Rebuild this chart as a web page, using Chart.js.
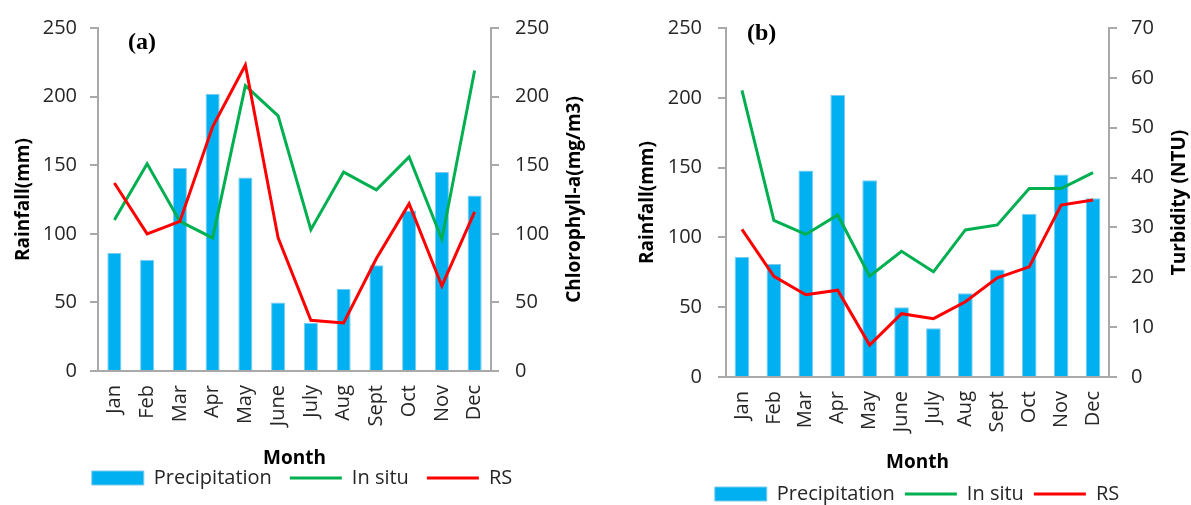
<!DOCTYPE html>
<html>
<head>
<meta charset="utf-8">
<title>Rainfall, chlorophyll-a and turbidity by month</title>
<script src="https://cdn.jsdelivr.net/npm/chart.js@4.4.1/dist/chart.umd.min.js"></script>
<style>
  html, body { margin: 0; padding: 0; background: #fff; overflow: hidden; width: 1191px; height: 505px; }
  canvas { position: absolute; top: 0; }
  #chlChart { left: 0; }
  #turbChart { left: 600px; }
</style>
</head>
<body>
<canvas id="chlChart" width="595" height="505"></canvas>
<canvas id="turbChart" width="591" height="515"></canvas>
<script>
// Monthly categories
const months = ['Jan', 'Feb', 'Mar', 'Apr', 'May', 'June', 'July', 'Aug', 'Sept', 'Oct', 'Nov', 'Dec'];

// Monthly rainfall (mm), shared by both panels
const precipitation = [86, 81, 148, 202, 141, 50, 35, 60, 77, 117, 145, 128];

// Panel (a): chlorophyll-a (mg/m3)
const chlInSitu = [110, 151, 109, 97, 208, 186, 103, 145, 132, 156, 96, 219];
const chlRS     = [137, 100, 109, 178, 223, 97, 37, 35, 82, 122, 62, 116];

// Panel (b): turbidity (NTU)
const turbInSitu = [57.5, 31.4, 28.6, 32.5, 20.2, 25.2, 21.1, 29.5, 30.5, 37.8, 37.8, 41.0];
const turbRS     = [29.6, 20.2, 16.5, 17.4, 6.4, 12.7, 11.7, 15.1, 19.9, 22.1, 34.5, 35.5];

// Axis ranges and steps
const rainRange = { min: 0, max: 250, step: 50 };
const chlRange  = { min: 0, max: 250, step: 50 };
const turbRange = { min: 0, max: 70, step: 10 };

const AXIS_GRAY = '#A9A9A9';
const TEXT = '#262626';
const BAR_BLUE = '#00B0F0';
const GREEN = '#00B050';
const RED = '#FF0000';
const FONT = '"Open Sans"';

// Panel letter and a right-hand axis title that reads bottom-to-top
const panelText = {
  id: 'panelText',
  afterDraw(chart, args, opts) {
    const { ctx, chartArea } = chart;
    ctx.save();
    ctx.fillStyle = '#000';
    ctx.font = 'bold 24px "Liberation Serif"';
    ctx.textAlign = 'left';
    ctx.textBaseline = 'middle';
    ctx.fillText(opts.label, chartArea.left + opts.labelDx, opts.labelY);
    const y2 = chart.scales.y2;
    ctx.font = 'bold 19px ' + FONT;
    ctx.textAlign = 'center';
    ctx.translate(y2.right - opts.titleInset, (chartArea.top + chartArea.bottom) / 2);
    ctx.rotate(-Math.PI / 2);
    ctx.fillText(opts.rightTitle, 0, 0);
    ctx.restore();
  }
};

function tickFont() { return { family: FONT, size: 20 }; }
function titleFont() { return { family: FONT, size: 19, weight: 'bold', lineHeight: 1.2 }; }

function buildChart(id, g, lineData, rightRange, rightTitle, label) {
  return new Chart(document.getElementById(id), {
    type: 'bar',
    data: {
      labels: months,
      datasets: [
        {
          label: 'Precipitation', data: precipitation, yAxisID: 'y',
          backgroundColor: BAR_BLUE, borderColor: '#7CCBEE', borderWidth: 1,
          categoryPercentage: 1, barPercentage: g.barPct,
          pointStyle: 'rect', order: 3
        },
        {
          type: 'line', label: 'In situ', data: lineData[0], yAxisID: 'y2',
          borderColor: GREEN, backgroundColor: GREEN, borderWidth: 3,
          pointRadius: 0, tension: 0, pointStyle: 'line', order: 2
        },
        {
          type: 'line', label: 'RS', data: lineData[1], yAxisID: 'y2',
          borderColor: RED, backgroundColor: RED, borderWidth: 3,
          pointRadius: 0, tension: 0, pointStyle: 'line', order: 1
        }
      ]
    },
    options: {
      responsive: false,
      animation: false,
      devicePixelRatio: 1,
      layout: { padding: { left: g.padLeft, right: 0, top: 25, bottom: g.padBottom } },
      plugins: {
        tooltip: { enabled: false },
        legend: {
          position: 'bottom',
          labels: {
            usePointStyle: true, pointStyleWidth: 52, boxHeight: 14,
            padding: g.legendPad, color: TEXT, font: tickFont(),
            sort: (a, b) => a.datasetIndex - b.datasetIndex
          }
        },
        panelText: { label: label, labelDx: g.labelDx, labelY: g.labelY, rightTitle: rightTitle, titleInset: g.rightInset }
      },
      scales: {
        x: {
          grid: { display: false, drawTicks: false },
          border: { display: true, color: AXIS_GRAY, width: 2 },
          ticks: { autoSkip: false, minRotation: 90, maxRotation: 90, padding: 14, color: TEXT, font: tickFont() },
          title: { display: true, text: 'Month', color: '#000', font: titleFont(), padding: { top: 0, bottom: g.xTitlePad } },
          afterFit: s => { s.height = g.xHeight; }
        },
        y: {
          position: 'left', min: rainRange.min, max: rainRange.max,
          ticks: { stepSize: rainRange.step, padding: g.yPad, color: TEXT, font: tickFont() },
          grid: { drawOnChartArea: false, drawTicks: true, tickLength: 8, color: AXIS_GRAY, lineWidth: 2 },
          border: { color: AXIS_GRAY, width: 2 },
          title: { display: true, text: 'Rainfall(mm)', color: '#000', font: titleFont(), padding: { top: g.yTitlePad, bottom: 0 } },
          afterFit: s => { s.width = g.yWidth; }
        },
        y2: {
          position: 'right', min: rightRange.min, max: rightRange.max,
          ticks: { stepSize: rightRange.step, padding: g.y2Pad, color: TEXT, font: tickFont() },
          grid: { drawOnChartArea: false, drawTicks: true, tickLength: 8, color: AXIS_GRAY, lineWidth: 2 },
          border: { color: AXIS_GRAY, width: 2 },
          afterFit: s => { s.width = g.y2Width; }
        }
      }
    },
    plugins: [panelText]
  });
}

function drawAll() {
  buildChart('chlChart', {
    barPct: 0.43, padLeft: 9, padBottom: 7, legendPad: 18,
    xHeight: 79, xTitlePad: -20, yWidth: 89, yPad: 13, yTitlePad: 3,
    y2Width: 104, y2Pad: 16, rightInset: 20, labelDx: 30, labelY: 43
  }, [chlInSitu, chlRS], chlRange, 'Chlorophyll-a(mg/m3)', '(a)');

  buildChart('turbChart', {
    barPct: 0.46, padLeft: 43, padBottom: 1, legendPad: 10,
    xHeight: 97, xTitlePad: 0, yWidth: 83, yPad: 16, yTitlePad: -7,
    y2Width: 82, y2Pad: 14, rightInset: 11, labelDx: 21, labelY: 34
  }, [turbInSitu, turbRS], turbRange, 'Turbidity (NTU)', '(b)');
}

Promise.all([
  document.fonts.load('20px "Open Sans"'),
  document.fonts.load('bold 19px "Open Sans"'),
  document.fonts.load('bold 24px "Liberation Serif"')
]).then(drawAll, drawAll);
</script>
</body>
</html>
